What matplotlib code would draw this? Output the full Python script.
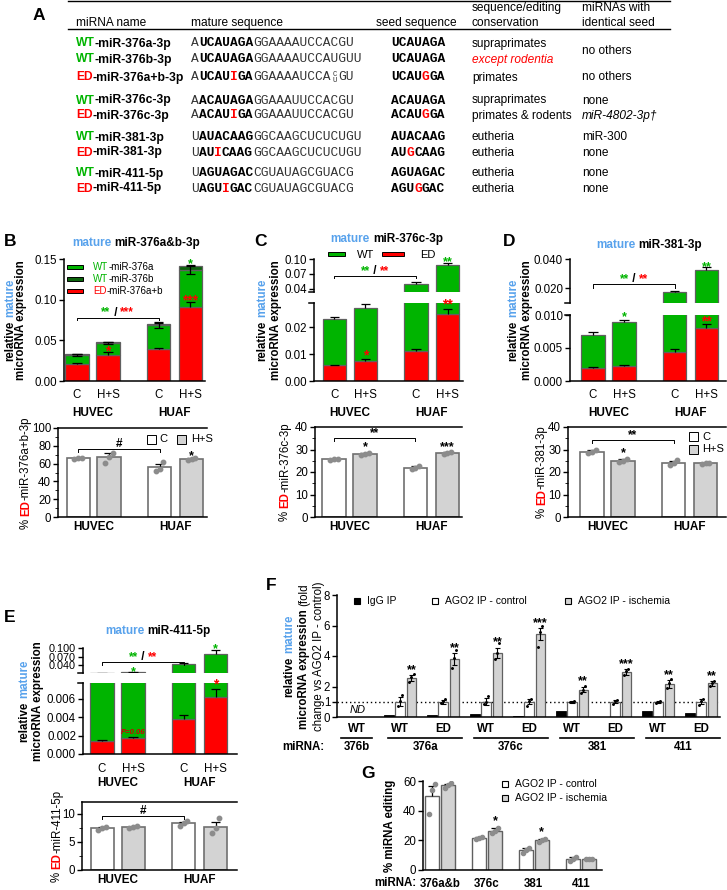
import numpy as np
import matplotlib
matplotlib.use("Agg")
import matplotlib.pyplot as plt
from matplotlib.patches import Rectangle
from matplotlib.lines import Line2D
from matplotlib.ticker import AutoMinorLocator

plt.rcParams['font.family'] = ['Liberation Sans', 'DejaVu Sans']
plt.rcParams['font.size'] = 8.3

GREEN = '#00b400'
DKGREEN = '#0c640c'
RED = '#ff0000'
BLUE = '#58a2ec'
LGRAY = '#d3d3d3'
EDGE = '#606060'
SEQ_GRAY = '#333333'
MONO = 'Liberation Mono'

# ---------------- panel A: table ----------------
TAB_NAMES = [("WT", "-miR-376a-3p"), ("WT", "-miR-376b-3p"), ("ED", "-miR-376a+b-3p"),
             ("WT", "-miR-376c-3p"), ("ED", "-miR-376c-3p"),
             ("WT", "-miR-381-3p"), ("ED", "-miR-381-3p"),
             ("WT", "-miR-411-5p"), ("ED", "-miR-411-5p")]
# n = normal, b = bold (seed), r = edited base, s = stacked pair
TAB_SEQ = [[("A", "n"), ("UCAUAGA", "b"), ("GGAAAAUCCACGU", "n")],
           [("A", "n"), ("UCAUAGA", "b"), ("GGAAAAUCCAUGUU", "n")],
           [("A", "n"), ("UCAU", "b"), ("I", "r"), ("GA", "b"), ("GGAAAAUCCA", "n"), ("CU", "s"), ("GU", "n")],
           [("A", "n"), ("ACAUAGA", "b"), ("GGAAAUUCCACGU", "n")],
           [("A", "n"), ("ACAU", "b"), ("I", "r"), ("GA", "b"), ("GGAAAUUCCACGU", "n")],
           [("U", "n"), ("AUACAAG", "b"), ("GGCAAGCUCUCUGU", "n")],
           [("U", "n"), ("AU", "b"), ("I", "r"), ("CAAG", "b"), ("GGCAAGCUCUCUGU", "n")],
           [("U", "n"), ("AGUAGAC", "b"), ("CGUAUAGCGUACG", "n")],
           [("U", "n"), ("AGU", "b"), ("I", "r"), ("GAC", "b"), ("CGUAUAGCGUACG", "n")]]
TAB_SEED = [[("UCAUAGA", "b")], [("UCAUAGA", "b")], [("UCAU", "b"), ("G", "r"), ("GA", "b")],
            [("ACAUAGA", "b")], [("ACAU", "b"), ("G", "r"), ("GA", "b")],
            [("AUACAAG", "b")], [("AU", "b"), ("G", "r"), ("CAAG", "b")],
            [("AGUAGAC", "b")], [("AGU", "b"), ("G", "r"), ("GAC", "b")]]
TAB_CONS = ["supraprimates", "except rodentia", "primates", "supraprimates", "primates & rodents",
            "eutheria", "eutheria", "eutheria", "eutheria"]
TAB_SAME = ["no others", None, "no others", "none", "miR-4802-3p\u2020", "miR-300", "none", "none", "none"]

# ---------------- panels B-E ----------------
COND = ["C", "H+S", "C", "H+S"]
CELLS = ["HUVEC", "HUAF"]
POS = np.array([0, 1, 2.63, 3.66])

B_ED = [0.021, 0.032, 0.039, 0.091]
B_WT_A = [0.011, 0.015, 0.030, 0.046]
B_WT_B = [0.001, 0.001, 0.0015, 0.0045]
B_ED_ERR = [0.0015, 0.004, 0.001, 0.006]
B_A_ERR = [0.001, 0.001, 0.004, 0.005]
B_TOT_ERR = [0.0005, 0.0005, 0.0005, 0.001]

C_ED = [0.0058, 0.0074, 0.011, 0.0248]
C_ED_ERR = [0.0003, 0.0006, 0.001, 0.002]
C_TOT = [0.023, 0.027, 0.050, 0.087]
C_TOT_ERR = [0.0006, 0.0015, 0.0025, 0.005]

D_ED = [0.0019, 0.0022, 0.0044, 0.0080]
D_ED_ERR = [0.0002, 0.0002, 0.0004, 0.0007]
D_TOT = [0.0070, 0.0090, 0.0176, 0.0325]
D_TOT_ERR = [0.0005, 0.0003, 0.0007, 0.002]

E_ED = [0.0014, 0.0017, 0.0038, 0.0062]
E_ED_ERR = [0.0001, 0.0001, 0.0004, 0.0009]
E_TOT = [0.0138, 0.0148, 0.043, 0.080]
E_TOT_ERR = [0.0003, 0.0005, 0.004, 0.014]

B_PCT = [66, 67, 56, 65]
B_PCT_ERR = [0.5, 4.5, 3.5, 1.0]
B_PCT_PTS = [[65.5, 66, 66.5], [61, 67, 72], [52, 54, 62], [64, 65, 66.5]]
C_PCT = [25.7, 28.0, 22.0, 28.3]
C_PCT_ERR = [0.3, 0.5, 0.7, 0.5]
C_PCT_PTS = [[25.4, 25.7, 26.0], [27.5, 28.0, 28.6], [21.4, 22.0, 22.8], [27.9, 28.3, 28.8]]
D_PCT = [29.0, 25.0, 24.0, 23.8]
D_PCT_ERR = [0.7, 0.7, 1.0, 0.2]
D_PCT_PTS = [[28.3, 29.0, 29.8], [24.3, 25.0, 25.8], [23.0, 24.0, 25.2], [23.6, 23.8, 24.0]]
E_PCT = [7.4, 7.6, 8.3, 7.7]
E_PCT_ERR = [0.25, 0.1, 0.3, 0.9]
E_PCT_PTS = [[7.1, 7.4, 7.7], [7.5, 7.6, 7.8], [7.9, 8.3, 8.8], [6.6, 7.4, 9.2]]

# ---------------- panel F ----------------
F_TYPE = ["WT", "WT", "ED", "WT", "ED", "WT", "ED", "WT", "ED"]
F_GROUPS = [("376b", 0, 0), ("376a", 1, 2), ("376c", 3, 4), ("381", 5, 6), ("411", 7, 8)]
F_IGG = [np.nan, 0.10, 0.15, 0.20, 0.08, 0.40, 0.02, 0.40, 0.25]
F_CTRL = [np.nan, 1, 1, 1, 1, 1, 1, 1, 1]
F_CTRL_ERR = [0, 0.28, 0.12, 0.22, 0.18, 0.05, 0.10, 0.05, 0.15]
F_ISCH = [np.nan, 2.55, 3.82, 4.20, 5.43, 1.80, 2.95, 2.15, 2.20]
F_ISCH_ERR = [0, 0.20, 0.38, 0.35, 0.40, 0.18, 0.18, 0.28, 0.15]
F_STARS = ["", "**", "**", "**", "***", "**", "***", "**", "**"]
F_CTRL_PTS = [[], [0.7, 1.05, 1.45], [0.95, 1.05, 1.15], [0.85, 1.0, 1.35], [0.75, 1.05, 1.2],
              [0.97, 1.0, 1.03], [0.85, 1.05, 1.1], [0.95, 1.0, 1.05], [0.8, 1.05, 1.15]]
F_ISCH_PTS = [[], [2.3, 2.6, 2.85], [3.2, 3.9, 4.4], [3.8, 4.2, 4.85], [4.6, 5.6, 6.0],
              [1.6, 1.8, 2.05], [2.75, 3.0, 3.15], [1.9, 2.2, 2.5], [2.05, 2.2, 2.35]]

# ---------------- panel G ----------------
G_MIRNA = ["376a&b", "376c", "381", "411"]
G_CTRL = [50, 21.5, 13.5, 7.5]
G_CTRL_ERR = [6.5, 0.5, 1.5, 1.5]
G_ISCH = [57, 26.5, 20, 7.5]
G_ISCH_ERR = [1, 2, 1, 0.3]
G_STARS = ["", "*", "*", ""]
G_CTRL_PTS = [[38, 54, 58], [21, 21.5, 22], [11.5, 13.5, 15], [6, 7.5, 9]]
G_ISCH_PTS = [[55.5, 57, 58.5], [25, 26.5, 28], [19, 20, 21], [7.3, 7.5, 7.7]]

# =====================================================
W, H = 727, 890
fig = plt.figure(figsize=(W / 100, H / 100), dpi=100)
R = fig.canvas.get_renderer()


def fx(x):
    return x / W


def fy(y):
    return 1 - y / H


def rich(x, y, parts, size=8.3, rot=0, center=True, weight='bold'):
    # text made of coloured pieces, x/y in pixels from top-left, y = baseline
    arts, pos = [], 0.0
    for part in parts:
        s, c = part[0], part[1]
        kw = dict(fontsize=size, color=c, fontweight=weight, rotation=rot,
                  rotation_mode='anchor', ha='left', va='baseline')
        if len(part) > 2:
            kw.update(part[2])
        core = s.rstrip(' ')
        nsp = len(s) - len(core)
        if rot == 0:
            t = fig.text(fx(x + pos), fy(y), core, **kw)
        else:
            t = fig.text(fx(x), fy(y - pos), core, **kw)
        bb = t.get_window_extent(R)
        pos += (bb.width if rot == 0 else bb.height) + nsp * 0.28 * kw['fontsize'] * 100 / 72
        arts.append(t)
    if center:
        for t in arts:
            tx, ty = t.get_position()
            if rot == 0:
                t.set_position((tx - pos / 2 / W, ty))
            else:
                t.set_position((tx, ty - pos / 2 / H))
    return arts


def hline(x0, x1, y, lw=1.0):
    fig.add_artist(Line2D([fx(x0), fx(x1)], [fy(y), fy(y)], color='k', lw=lw))


def square(xc, yc, w, h, fc, lw=0.7):
    fig.add_artist(Rectangle((fx(xc - w / 2), fy(yc + h / 2)), w / W, h / H,
                             transform=fig.transFigure, facecolor=fc, edgecolor='k', lw=lw))


def letter(x, y, s):
    fig.text(fx(x), fy(y), s, fontsize=12.5, fontweight='bold', ha='left', va='center')


def d2p(ax, x, y):
    px, py = ax.transData.transform((x, y))
    return px, H - py


def add_ax(box, xlim, ylim):
    x0, y0, x1, y1 = box
    ax = fig.add_axes([fx(x0), fy(y1), (x1 - x0) / W, (y1 - y0) / H])
    ax.set_xlim(*xlim)
    ax.set_ylim(*ylim)
    ax.patch.set_alpha(0)
    for s in ('top', 'right'):
        ax.spines[s].set_visible(False)
    for s in ('left', 'bottom'):
        ax.spines[s].set_linewidth(1.1)
    ax.tick_params(axis='y', length=3.5, width=1, labelsize=8.3, pad=1.5)
    ax.tick_params(axis='x', length=0, labelsize=8.3)
    return ax


def caps(ax, x, y, up, down=None, cw=0.15, lw=0.9):
    x, y, up = np.asarray(x, float), np.asarray(y, float), np.asarray(up, float)
    down = np.zeros_like(up) if down is None else np.asarray(down, float)
    ax.vlines(x, y - down, y + up, color='k', lw=lw, zorder=4)
    ax.hlines(y + up, x - cw, x + cw, color='k', lw=lw, zorder=4)
    m = down > 0
    if m.any():
        ax.hlines((y - down)[m], x[m] - cw, x[m] + cw, color='k', lw=lw, zorder=4)


def star(ax, x, y, s, color='k', size=9):
    ax.annotate(s, (x, y), xytext=(0, -5), textcoords='offset points', ha='center',
                va='baseline', color=color, fontsize=size, fontweight='bold',
                annotation_clip=False)


def bracket(ax, x1, x2, y, tick, parts, size=8.5):
    ax.plot([x1, x1, x2, x2], [y - tick, y, y, y - tick], color='k', lw=0.7, clip_on=False)
    px, py = d2p(ax, (x1 + x2) / 2, y)
    rich(px, py - 2, parts, size=size)


def cond_labels(ax, dy1, dy2, size=8.3):
    ax.set_xticks(POS)
    ax.set_xticklabels([])
    for p, c in zip(POS, COND):
        ax.annotate(c, (p, 0), xycoords=('data', 'axes fraction'), xytext=(0, -dy1 / 1.389),
                    textcoords='offset points', ha='center', va='center', fontsize=size)
    for k, cell in enumerate(CELLS):
        ax.annotate(cell, (POS[2 * k:2 * k + 2].mean(), 0), xycoords=('data', 'axes fraction'),
                    xytext=(0, -dy2 / 1.389), textcoords='offset points', ha='center',
                    va='center', fontsize=8.5, fontweight='bold')


def stack(ax, ed, parts, colors, width=0.75):
    ax.bar(POS, ed, width, color=RED, edgecolor=EDGE, lw=0.9, zorder=2)
    bottom = np.array(ed, float)
    for h, c in zip(parts, colors):
        ax.bar(POS, h, width, bottom=bottom, color=c, edgecolor=EDGE, lw=0.9, zorder=2)
        bottom = bottom + np.asarray(h, float)
    return bottom


def break_marks(ax, where):
    b = ax.get_position()
    yy = b.y0 if where == 'bottom' else b.y1
    fig.add_artist(Line2D([b.x0 - 5 / W, b.x0], [yy, yy], color='k', lw=1.1))


def pct_panel(box, xlim, ylim, vals, errs, pts, yticks, label_parts, lab_x):
    ax = add_ax(box, xlim, ylim)
    ax.spines['top'].set_visible(True)
    ax.spines['top'].set_linewidth(1.1)
    ax.bar(POS, vals, 0.75, color=['white', LGRAY, 'white', LGRAY], edgecolor='#707070',
           lw=1.2, zorder=2)
    caps(ax, POS, vals, errs, cw=0.15)
    for p, pp in zip(POS, pts):
        ax.plot(p + np.array([-0.12, 0, 0.12]), pp, 'o', ms=3.2, color='#8c8c8c', zorder=5)
    ax.set_yticks(yticks)
    ax.yaxis.set_minor_locator(AutoMinorLocator(2))
    ax.tick_params(axis='y', which='minor', length=2)
    ax.set_xticks([POS[:2].mean(), POS[2:].mean()])
    ax.set_xticklabels(CELLS, fontweight='bold', fontsize=8.5)
    ax.tick_params(axis='x', pad=3)
    rich(lab_x, (box[1] + box[3]) / 2, label_parts, rot=90, size=8.3)
    return ax


# ================= panel A =================
letter(33, 15, "A")
hline(68, 670, 1)
hline(68, 670, 29)
HDR = 8.6
fig.text(fx(76), fy(26), "miRNA name", fontsize=HDR, va='baseline')
fig.text(fx(191), fy(26), "mature sequence", fontsize=HDR, va='baseline')
fig.text(fx(376), fy(26), "seed sequence", fontsize=HDR, va='baseline')
fig.text(fx(472), fy(11), "sequence/editing", fontsize=HDR, va='baseline')
fig.text(fx(472), fy(26), "conservation", fontsize=HDR, va='baseline')
fig.text(fx(582), fy(11), "miRNAs with", fontsize=HDR, va='baseline')
fig.text(fx(582), fy(26), "identical seed", fontsize=HDR, va='baseline')

probe = fig.text(0, 0, "A" * 20, family=MONO, fontsize=9.3)
ADV = probe.get_window_extent(R).width / 20
probe.remove()


def seq_text(x, y, segs):
    i = 0
    for s, st in segs:
        if st == 's':
            xc = x + (i + 0.5) * ADV
            fig.text(fx(xc), fy(y - 4.5), s[0], family=MONO, fontsize=5.2, ha='center',
                     va='baseline', color=SEQ_GRAY)
            fig.text(fx(xc), fy(y + 1), s[1], family=MONO, fontsize=5.2, ha='center',
                     va='baseline', color=SEQ_GRAY)
            i += 1
            continue
        col = RED if st == 'r' else ('k' if st == 'b' else SEQ_GRAY)
        fig.text(fx(x + i * ADV), fy(y), s, family=MONO, fontsize=9.3,
                 fontweight='bold' if st in 'br' else 'normal', color=col, va='baseline')
        i += len(s)


ROW_Y = [46.5, 62.5, 80.5, 103.5, 118.5, 140.5, 155.5, 176.5, 191.5]
for k, yb in enumerate(ROW_Y):
    tag, rest = TAB_NAMES[k]
    rich(76, yb, [(tag, GREEN if tag == "WT" else RED), (rest, 'k')], size=8.7, center=False)
    seq_text(191, yb, TAB_SEQ[k])
    seq_text(391, yb, TAB_SEED[k])
    cons = TAB_CONS[k]
    if cons == "except rodentia":
        fig.text(fx(472), fy(yb), cons, fontsize=8.6, color=RED, style='italic', va='baseline')
    else:
        fig.text(fx(472), fy(yb), cons, fontsize=8.6, va='baseline')
    same = TAB_SAME[k]
    if same is None:
        continue
    yy = (ROW_Y[0] + ROW_Y[1]) / 2 if k == 0 else yb
    fig.text(fx(582), fy(yy), same, fontsize=8.6, va='baseline',
             style='italic' if same.startswith("miR-4802") else 'normal')

# ================= panel B =================
letter(4, 242, "B")
rich(136, 246, [("mature ", BLUE), ("miR-376a&b-3p", 'k')], size=8.5)
axB = add_ax((64, 259, 205, 381), (-0.42, 4.13), (0, 0.15))
topA = np.add(B_ED, B_WT_A)
tot = stack(axB, B_ED, [B_WT_A, B_WT_B], [GREEN, DKGREEN])
caps(axB, POS, B_ED, B_ED_ERR)
caps(axB, POS, topA, B_A_ERR, B_A_ERR)
caps(axB, POS, tot, B_TOT_ERR)
axB.set_yticks([0, 0.05, 0.10, 0.15])
axB.set_yticklabels(["0.00", "0.05", "0.10", "0.15"])
cond_labels(axB, 14, 32)
rich(13, 320, [("relative ", 'k'), ("mature", BLUE)], rot=90)
rich(24, 320, [("microRNA expression", 'k')], rot=90)
for yy, fc, tag, rest in [(267, GREEN, "WT", "-miR-376a"), (279, DKGREEN, "WT", "-miR-376b"),
                          (291, RED, "ED", "-miR-376a+b")]:
    square(75, yy, 16, 4, fc)
    rich(93, yy + 3, [(tag, GREEN if tag == "WT" else RED), (rest, 'k')], size=7,
         center=False, weight='normal')
bracket(axB, POS[0], POS[2], 0.078, 0.003, [("**", GREEN), (" / ", 'k'), ("***", RED)])
star(axB, POS[1], 0.0405, "*", RED, 10)
star(axB, POS[3], 0.103, "***", RED, 10)
star(axB, POS[3], 0.149, "*", GREEN, 9)

axBl = pct_panel((58, 428, 207, 517), (-0.65, 4.16), (0, 100), B_PCT, B_PCT_ERR, B_PCT_PTS,
                 [0, 20, 40, 60, 80, 100],
                 [("% ", 'k', {'fontweight': 'normal'}), ("ED", RED),
                  ("-miR-376a+b-3p", 'k', {'fontweight': 'normal'})], 29)
bracket(axBl, POS[0], POS[2], 76.5, 3, [("#", 'k')], size=8.5)
star(axBl, POS[3], 73, "*")
square(151, 439, 9, 9, 'white')
fig.text(fx(159), fy(442.5), "C", fontsize=8, va='baseline')
square(181, 439, 9, 9, LGRAY)
fig.text(fx(191), fy(442.5), "H+S", fontsize=8, va='baseline')

# ================= panel C =================
letter(254, 242, "C")
rich(387, 242, [("mature ", BLUE), ("miR-376c-3p", 'k')], size=8.5)
square(336, 254, 17, 4, GREEN)
fig.text(fx(357), fy(257.5), "WT", fontsize=8, va='baseline')
square(393, 254, 22, 4, RED)
fig.text(fx(420), fy(257.5), "ED", fontsize=8, va='baseline')
axCu = add_ax((314, 259, 463, 292), (-0.66, 4.15), (0.0332, 0.10))
axCl = add_ax((314, 303, 463, 381), (-0.66, 4.15), (0, 0.0289))
for ax in (axCu, axCl):
    stack(ax, C_ED, [np.subtract(C_TOT, C_ED)], [GREEN])
    caps(ax, POS, C_ED, C_ED_ERR)
    caps(ax, POS, C_TOT, C_TOT_ERR)
axCu.spines['bottom'].set_visible(False)
axCu.set_xticks([])
axCu.set_yticks([0.04, 0.07, 0.10])
axCu.set_yticklabels(["0.04", "0.07", "0.10"])
axCl.set_yticks([0, 0.01, 0.02])
axCl.set_yticklabels(["0.00", "0.01", "0.02"])
break_marks(axCu, 'bottom')
break_marks(axCl, 'top')
cond_labels(axCl, 14, 32)
rich(265, 320, [("relative ", 'k'), ("mature", BLUE)], rot=90)
rich(279, 320, [("microRNA expression", 'k')], rot=90)
bracket(axCu, POS[0], POS[2], 0.0648, 0.004, [("**", GREEN), (" / ", 'k'), ("**", RED)])
star(axCl, POS[1], 0.0104, "*", RED, 10)
star(axCl, POS[3], 0.0296, "**", RED, 10)
star(axCu, POS[3], 0.102, "**", GREEN, 9)

axCp = pct_panel((315, 427, 462, 517), (-0.61, 4.13), (0, 40), C_PCT, C_PCT_ERR, C_PCT_PTS,
                 [0, 10, 20, 30, 40],
                 [("% ", 'k', {'fontweight': 'normal'}), ("ED", RED),
                  ("-miR-376c-3p", 'k', {'fontweight': 'normal'})], 288)
bracket(axCp, POS[0], POS[2], 35.1, 1.2, [("**", 'k')])
star(axCp, POS[1], 33, "*")
star(axCp, POS[3], 33, "***")

# ================= panel D =================
letter(503, 242, "D")
rich(649, 248, [("mature ", BLUE), ("miR-381-3p", 'k')], size=8.5)
axDu = add_ax((570, 259, 726, 303), (-0.74, 4.29), (0.0097, 0.040))
axDl = add_ax((570, 315, 726, 381), (-0.74, 4.29), (0, 0.010))
for ax in (axDu, axDl):
    stack(ax, D_ED, [np.subtract(D_TOT, D_ED)], [GREEN])
    caps(ax, POS, D_ED, D_ED_ERR)
    caps(ax, POS, D_TOT, D_TOT_ERR)
axDu.spines['bottom'].set_visible(False)
axDu.set_xticks([])
axDu.set_yticks([0.020, 0.040])
axDu.set_yticklabels(["0.020", "0.040"])
axDl.set_yticks([0, 0.005, 0.010])
axDl.set_yticklabels(["0.000", "0.005", "0.010"])
break_marks(axDu, 'bottom')
break_marks(axDl, 'top')
cond_labels(axDl, 14, 32)
rich(516, 320, [("relative ", 'k'), ("mature", BLUE)], rot=90)
rich(530, 320, [("microRNA expression", 'k')], rot=90)
bracket(axDu, POS[0], POS[2], 0.0228, 0.0025, [("**", GREEN), (" / ", 'k'), ("**", RED)])
star(axDl, POS[1], 0.0103, "*", GREEN, 9)
star(axDl, POS[3], 0.0094, "**", RED, 10)
star(axDu, POS[3], 0.0372, "**", GREEN, 9)

axDp = pct_panel((568, 427, 726, 517), (-0.77, 4.32), (0, 40), D_PCT, D_PCT_ERR, D_PCT_PTS,
                 [0, 10, 20, 30, 40],
                 [("% ", 'k', {'fontweight': 'normal'}), ("ED", RED),
                  ("-miR-381-3p", 'k', {'fontweight': 'normal'})], 545)
bracket(axDp, POS[0], POS[2], 34.2, 1.2, [("**", 'k')])
star(axDp, POS[1], 30, "*")
square(693, 436, 9, 9, 'white')
fig.text(fx(702), fy(439.5), "C", fontsize=8, va='baseline')
square(693, 449, 9, 9, LGRAY)
fig.text(fx(702), fy(452.5), "H+S", fontsize=8, va='baseline')

# ================= panel E =================
letter(4, 618, "E")
rich(158, 634, [("mature ", BLUE), ("miR-411-5p", 'k')], size=8.5)
axEu = add_ax((83, 648, 237, 673), (-0.61, 4.35), (0.0125, 0.100))
axEl = add_ax((83, 683, 237, 754), (-0.61, 4.35), (0, 0.0077))
for ax in (axEu, axEl):
    stack(ax, E_ED, [np.subtract(E_TOT, E_ED)], [GREEN])
    caps(ax, POS, E_ED, E_ED_ERR)
    caps(ax, POS, E_TOT, E_TOT_ERR)
axEu.spines['bottom'].set_visible(False)
axEu.set_xticks([])
axEu.set_yticks([0.04, 0.07, 0.10])
axEu.set_yticklabels(["0.040", "0.070", "0.100"])
axEu.tick_params(axis='y', labelsize=7.8)
axEl.set_yticks([0, 0.002, 0.004, 0.006])
axEl.set_yticklabels(["0.000", "0.002", "0.004", "0.006"])
break_marks(axEu, 'bottom')
break_marks(axEl, 'top')
cond_labels(axEl, 15, 29)
rich(27, 701, [("relative ", 'k'), ("mature", BLUE)], rot=90)
rich(41, 701, [("microRNA expression", 'k')], rot=90)
bracket(axEu, POS[0], POS[2], 0.05, 0.008, [("**", GREEN), (" / ", 'k'), ("**", RED)])
star(axEu, POS[1], 0.030, "*", GREEN, 9)
star(axEu, POS[3], 0.110, "*", GREEN, 9)
star(axEl, POS[3], 0.0079, "*", RED, 10)
axEl.text(POS[1], 0.00235, "P=0.06", color='#d00000', fontsize=5.5, fontweight='bold',
          style='italic', ha='center', va='center')

axEp = pct_panel((82, 802, 237, 870), (-0.65, 4.35), (0, 12.1), E_PCT, E_PCT_ERR, E_PCT_PTS,
                 [0, 5, 10],
                 [("% ", 'k', {'fontweight': 'normal'}), ("ED", RED),
                  ("-miR-411-5p", 'k', {'fontweight': 'normal'})], 60)
bracket(axEp, POS[0], POS[2], 9.6, 0.5, [("#", 'k')])

# ================= panel F =================
letter(266, 585, "F")
axF = add_ax((337, 595, 720, 717), (-0.47, 8.44), (0, 8))
xi = np.arange(len(F_TYPE))
ok = np.isfinite(F_CTRL)
axF.bar(xi[ok] - 0.26, np.asarray(F_IGG)[ok], 0.22, color='k', edgecolor='k', lw=0.6, zorder=2)
axF.bar(xi[ok], np.asarray(F_CTRL)[ok], 0.22, color='white', edgecolor=EDGE, lw=0.9, zorder=2)
axF.bar(xi[ok] + 0.26, np.asarray(F_ISCH)[ok], 0.22, color=LGRAY, edgecolor=EDGE, lw=0.9, zorder=2)
caps(axF, xi[ok], np.asarray(F_CTRL)[ok], np.asarray(F_CTRL_ERR)[ok],
     np.asarray(F_CTRL_ERR)[ok], cw=0.06, lw=0.8)
caps(axF, xi[ok] + 0.26, np.asarray(F_ISCH)[ok], np.asarray(F_ISCH_ERR)[ok],
     np.asarray(F_ISCH_ERR)[ok], cw=0.06, lw=0.8)
for i in xi[ok]:
    axF.plot([i - 0.05, i, i + 0.05], F_CTRL_PTS[i], '.', ms=2.2, color='k', zorder=5)
    axF.plot([i + 0.21, i + 0.26, i + 0.31], F_ISCH_PTS[i], '.', ms=2.2, color='k', zorder=5)
    star(axF, i + 0.26, F_ISCH[i] + F_ISCH_ERR[i] + 0.6, F_STARS[i], 'k', 9)
axF.axhline(1, ls=(0, (1, 2)), color='k', lw=1.0, zorder=1)
axF.text(0, 0.45, "ND", style='italic', ha='center', va='center', fontsize=8)
axF.set_yticks([0, 1, 2, 4, 6, 8])
axF.set_xticks([])
xt = axF.get_xaxis_transform()
for i, t in enumerate(F_TYPE):
    axF.text(i, -12 / 122, t, transform=xt, ha='center', va='center', fontsize=8.3,
             fontweight='bold')
for name, i0, i1 in F_GROUPS:
    a, b = (i0 - 0.38, i1 + 0.35) if i0 == i1 else (i0 - 0.28, i1 + 0.44)
    axF.plot([a, b], [-21 / 122, -21 / 122], transform=xt, color='k', lw=1.2, clip_on=False)
    axF.text((a + b) / 2, -30 / 122, name, transform=xt, ha='center', va='center',
             fontsize=8.3, fontweight='bold')
fig.text(fx(303), fy(747), "miRNA:", ha='center', va='center', fontsize=8.3, fontweight='bold')
for xc, fc, lab in [(357, 'k', "IgG IP"), (435, 'white', "AGO2 IP - control"),
                    (568, LGRAY, "AGO2 IP - ischemia")]:
    square(xc, 601, 5.5, 5.5, fc, lw=0.8)
    fig.text(fx(xc + 10), fy(601), lab, fontsize=7.5, va='center')
rich(292, 656, [("relative ", 'k'), ("mature", BLUE)], rot=90)
rich(307, 656, [("microRNA expression ", 'k'), ("(fold", 'k', {'fontweight': 'normal'})], rot=90)
rich(322, 656, [("change vs AGO2 IP - control)", 'k')], rot=90, weight='normal')

# ================= panel G =================
letter(361, 773, "G")
axG = add_ax((423, 781, 602, 870), (-0.36, 3.45), (0, 60))
gx = np.arange(len(G_MIRNA))
axG.bar(gx - 0.17, G_CTRL, 0.3, color='white', edgecolor=EDGE, lw=1.0, zorder=2)
axG.bar(gx + 0.17, G_ISCH, 0.3, color=LGRAY, edgecolor=EDGE, lw=1.0, zorder=2)
caps(axG, gx - 0.17, G_CTRL, G_CTRL_ERR, cw=0.08)
caps(axG, gx + 0.17, G_ISCH, G_ISCH_ERR, cw=0.08)
for i in gx:
    axG.plot(i - 0.17 + np.array([-0.07, 0, 0.07]), G_CTRL_PTS[i], 'o', ms=3, color='#8c8c8c', zorder=5)
    axG.plot(i + 0.17 + np.array([-0.07, 0, 0.07]), G_ISCH_PTS[i], 'o', ms=3, color='#8c8c8c', zorder=5)
    if G_STARS[i]:
        star(axG, i + 0.17, G_ISCH[i] + G_ISCH_ERR[i] + 7, G_STARS[i])
axG.set_yticks([0, 20, 40, 60])
axG.set_xticks(gx)
axG.set_xticklabels(G_MIRNA, fontweight='bold', fontsize=8.3)
axG.tick_params(axis='x', pad=6)
fig.text(fx(395), fy(883), "miRNA:", ha='center', va='center', fontsize=8.3, fontweight='bold')
square(505, 784, 5.5, 5.5, 'white', lw=0.8)
fig.text(fx(515), fy(784), "AGO2 IP - control", fontsize=7.5, va='center')
square(505, 798, 5.5, 5.5, LGRAY, lw=0.8)
fig.text(fx(515), fy(798), "AGO2 IP - ischemia", fontsize=7.5, va='center')
rich(393, 826, [("% miRNA editing", 'k')], rot=90)

fig.savefig("out.png", dpi=100)
